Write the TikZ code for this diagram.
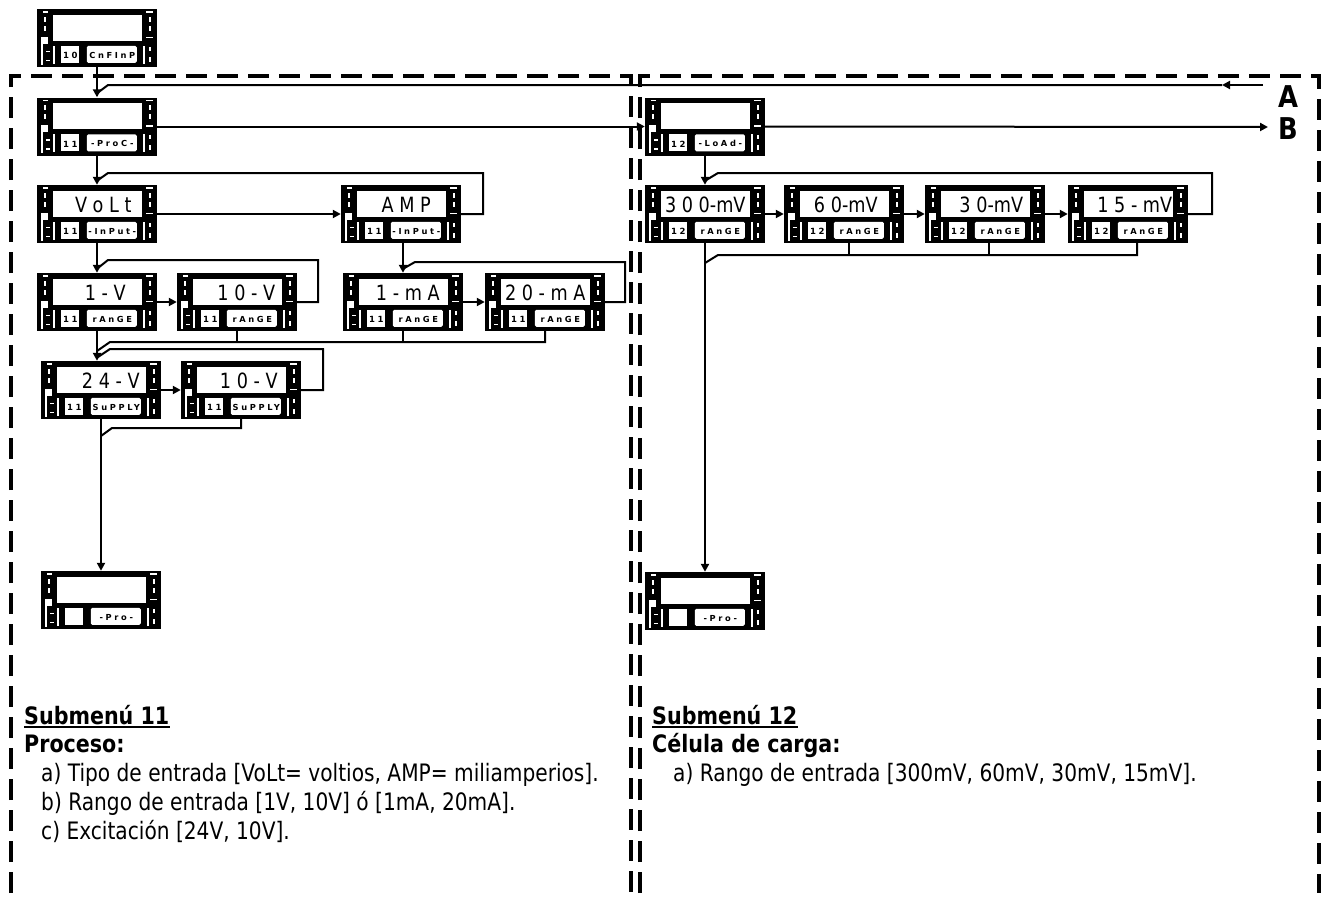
\documentclass[tikz,border=0pt]{standalone}
\usepackage{fontspec}
\setmainfont{DejaVu Sans}[FakeStretch=0.84,BoldFeatures={FakeStretch=0.86}]
\newfontfamily\dispfont{DejaVu Sans}[FakeStretch=0.84]
\newfontfamily\lblfont{DejaVu Sans}[LetterSpace=32]
\usetikzlibrary{arrows.meta,calc}
\tikzset{
  dispbox/.style={fill=black,draw=none,inner sep=0pt,minimum width=120pt,minimum height=58pt},
  bigtxt/.style={font=\dispfont\fontsize{21}{21}\selectfont,inner sep=0pt,anchor=base},
  numtxt/.style={font=\lblfont\bfseries\fontsize{8.5}{8.5}\selectfont,inner sep=0pt,anchor=base},
  lbltxt/.style={font=\lblfont\bfseries\fontsize{8.3}{8.3}\selectfont,inner sep=0pt,anchor=base},
  conn/.style={line width=2pt},
  arr/.style={conn,-{Triangle[length=8pt,width=8pt]}},
  frameline/.style={line width=4pt,dash pattern=on 21pt off 10pt},
  bodytxt/.style={font=\fontsize{24}{24}\selectfont,inner sep=0pt,anchor=base west},
  headtxt/.style={font=\bfseries\fontsize{24}{24}\selectfont,inner sep=0pt,anchor=base west},
  abtxt/.style={font=\bfseries\fontsize{30}{30}\selectfont,inner sep=0pt},
}
% #1 name, #2 x, #3 y, #4 big text, #5 text x offset, #6 number, #7 label
\newcommand\mkdisp[7]{%
  \node[dispbox] (#1) at (#2,#3) {};
  \begin{scope}[shift={(#1.north west)}]
    \fill[white] (16,6) rectangle (105,32);
    \node[bigtxt] at ({60.5+(#5)},28) {#4};
    \fill[white] (24,37) rectangle (42,54);
    \node[numtxt] at (33.5,49.8) {#6};
    \fill[white,rounded corners=1.5pt] (50,37) rectangle (100,54);
    \node[lbltxt] at (75.5,49.5) {#7};
    % left decorations
    \fill[white] (6,2.5) rectangle (11,4);
    \fill[white] (7.5,8) rectangle (9,13);
    \fill[white] (7.5,17) rectangle (9,22);
    \fill[white] (4,28) rectangle (11,35);
    \fill[white] (4,35) rectangle (6.5,56);
    \fill[white] (9.5,42) rectangle (13.5,43.5);
    \fill[white] (9.5,51) rectangle (13.5,52.5);
    \fill[white] (16,37) rectangle (18,55);
    % right decorations
    \fill[white] (109,2.5) rectangle (116,4);
    \fill[white] (112,8) rectangle (114,13);
    \fill[white] (112,17) rectangle (114,22);
    \fill[white] (109,28) rectangle (116,29.5);
    \fill[white] (106.5,37) rectangle (108.5,55);
    \fill[white] (112,38) rectangle (114,42);
    \fill[white] (112,48) rectangle (114,53);
  \end{scope}}
\begin{document}
\begin{tikzpicture}[x=1pt,y=-1pt]
  \fill[white] (0,0) rectangle (1326,897);
  \useasboundingbox (0,0) rectangle (1326,897);
  % frames
  \draw[frameline] (11,893) -- (11,76) -- (631,76) -- (631,893);
  \draw[frameline] (640,893) -- (640,76) -- (1319,76) -- (1319,893);
  % displays
  \mkdisp{cnf}{97}{38}{}{0}{10}{CnFInP}
  \mkdisp{proc}{97}{126.5}{}{0}{11}{-ProC-}
  \mkdisp{volt}{97}{214}{V o L t}{6}{11}{-InPut-}
  \mkdisp{amp}{401}{214}{A M P}{5}{11}{-InPut-}
  \mkdisp{v1}{97}{302}{1 - V}{8}{11}{rAnGE}
  \mkdisp{v10}{237}{302}{1 0 - V}{9}{11}{rAnGE}
  \mkdisp{ma1}{403}{302}{1 - m A}{4.5}{11}{rAnGE}
  \mkdisp{ma20}{545}{302}{2 0 - m A}{0}{11}{rAnGE}
  \mkdisp{s24}{101}{390}{2 4 - V}{9.5}{11}{SuPPLY}
  \mkdisp{s10}{241}{390}{1 0 - V}{7.5}{11}{SuPPLY}
  \mkdisp{pro1}{101}{600}{}{0}{}{-Pro-}
  \mkdisp{load}{705}{126.5}{}{0}{12}{-LoAd-}
  \mkdisp{r300}{705}{214}{3 0 0-mV}{0}{12}{rAnGE}
  \mkdisp{r60}{844}{214}{6 0-mV}{1.5}{12}{rAnGE}
  \mkdisp{r30}{985}{214}{3 0-mV}{6}{12}{rAnGE}
  \mkdisp{r15}{1128}{214}{1 5 - mV}{6.5}{12}{rAnGE}
  \mkdisp{pro2}{705}{601}{}{0}{}{-Pro-}
  % A / B
  \node[abtxt] (A) at (1288,97) {A};
  \node[abtxt] (B) at (1288,129) {B};
  \coordinate (aend) at (1263,85);
  \coordinate (amid) at (1222,85);
  \coordinate (bend) at (1268,127);
  % connectors
  \draw[arr] (cnf.south) -- (proc.north);
  \draw[arr] (aend) -- (amid);
  \draw[conn] (amid) -- (108,85) -- ($(proc.north)+(0,-4)$);
  \draw[arr] (proc.east) -- (load.west);
  \draw[arr] (load.east) -- (bend);
  \draw[arr] (proc.south) -- (volt.north);
  \draw[arr] (volt.east) -- (amp.west);
  \draw[conn] (amp.east) -- (483,214) -- (483,173) -- (108,173) -- ($(volt.north)+(0,-4)$);
  \draw[arr] (volt.south) -- (v1.north);
  \draw[arr] (v1.east) -- (v10.west);
  \draw[conn] (v10.east) -- (318,302) -- (318,260) -- (108,260) -- ($(v1.north)+(0,-4)$);
  \draw[arr] (ma1.north |- amp.south) -- (ma1.north);
  \draw[arr] (ma1.east) -- (ma20.west);
  \draw[conn] (ma20.east) -- (625,302) -- (625,262) -- (415,262) -- ($(ma1.north)+(0,-4)$);
  \draw[arr] (v1.south) -- (v1.south |- s24.north);
  \draw[conn] (ma20.south) -- ++(0,11) -- (110,342) -- (97,351);
  \draw[conn] (ma1.south) -- ++(0,11);
  \draw[conn] (v10.south) -- ++(0,11);
  \draw[arr] (s24.east) -- (s10.west);
  \draw[conn] (s10.east) -- ++(22,0) -- (323,349) -- (110,349) -- (98,357);
  \draw[arr] (s24.south) -- (pro1.north);
  \draw[conn] (s10.south) -- ++(0,9) -- (112,428) -- (101,436);
  \draw[arr] (load.south) -- (r300.north);
  \draw[arr] (r300.east) -- (r60.west);
  \draw[arr] (r60.east) -- (r30.west);
  \draw[arr] (r30.east) -- (r15.west);
  \draw[conn] (r15.east) -- (1212,214) -- (1212,173) -- (718,173) -- ($(r300.north)+(0,-4)$);
  \draw[conn] ($(r15.south)+(9,0)$) -- ++(0,12) -- (718,255) -- (705,263);
  \draw[conn] ($(r30.south)+(4,0)$) -- ++(0,12);
  \draw[conn] ($(r60.south)+(5,0)$) -- ++(0,12);
  \draw[arr] (r300.south) -- (pro2.north);
  % texts
  \node[headtxt] (sub11) at (24,724) {Submenú 11};
  \draw[line width=2pt] ([yshift=-3pt]sub11.base west) -- ([yshift=-3pt]sub11.base east);
  \node[headtxt] (proceso) at (24,752) {Proceso:};
  \node[bodytxt] (la) at (41,781) {a) Tipo de entrada [VoLt= voltios, AMP= miliamperios].};
  \node[bodytxt] (lb) at (41,810) {b) Rango de entrada [1V, 10V] ó [1mA, 20mA].};
  \node[bodytxt] (lc) at (41,839) {c) Excitación [24V, 10V].};
  \node[headtxt] (sub12) at (652,724) {Submenú 12};
  \draw[line width=2pt] ([yshift=-3pt]sub12.base west) -- ([yshift=-3pt]sub12.base east);
  \node[headtxt] (celula) at (652,752) {Célula de carga:};
  \node[bodytxt] (ra) at (673,781) {a) Rango de entrada [300mV, 60mV, 30mV, 15mV].};
\end{tikzpicture}
\end{document}
